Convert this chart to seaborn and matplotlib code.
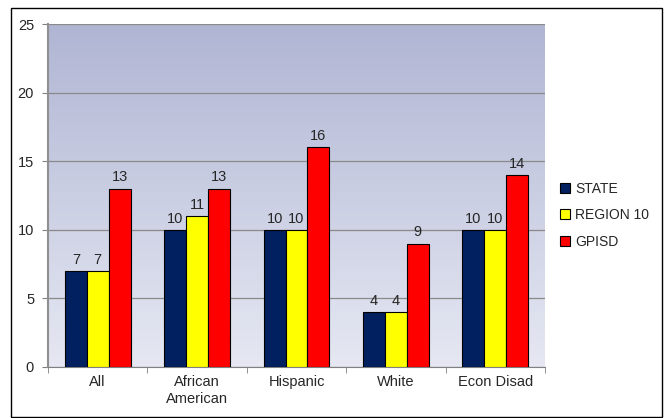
import matplotlib
matplotlib.use("Agg")
from matplotlib import pyplot as plt
from matplotlib.patches import Rectangle
import seaborn as sns
import pandas as pd
import numpy as np

categories = ["All", "African\nAmerican", "Hispanic", "White", "Econ Disad"]
series = ["STATE", "REGION 10", "GPISD"]
state = [7, 10, 10, 4, 10]
region10 = [7, 11, 10, 4, 10]
gpisd = [13, 13, 16, 9, 14]
colors = ["#002060", "#FFFF00", "#FF0000"]

df = pd.DataFrame({
    "Group": categories * 3,
    "Series": [s for s in series for _ in categories],
    "Value": state + region10 + gpisd,
})

sns.set_style("white")
plt.rcParams["font.family"] = ["Liberation Sans", "DejaVu Sans"]

fig = plt.figure(figsize=(6.64, 4.18), dpi=100)
ax = fig.add_axes([48 / 664, 1 - 367 / 418, (545 - 48) / 664, (367 - 24) / 418])

# gradient background of plot area (light at bottom, bluish grey at top)
grad = np.linspace(0, 1, 256).reshape(-1, 1, 1)
top = np.array([0.69, 0.71, 0.83])
bottom = np.array([0.90, 0.91, 0.95])
img = bottom + (top - bottom) * grad
ax.imshow(img, extent=[-0.5, 4.5, 0, 25], origin="lower",
          aspect="auto", zorder=0, interpolation="bilinear")

sns.barplot(
    data=df, x="Group", y="Value", hue="Series", order=categories,
    hue_order=series, palette=colors, width=0.66, edgecolor="black",
    linewidth=0.8, saturation=1, ax=ax, zorder=3, legend=True,
)

for c in ax.containers:
    ax.bar_label(c, fmt="%d", padding=3, fontsize=10.5)

ax.set_xlim(-0.5, 4.5)
ax.set_ylim(0, 25)
ax.set_yticks([0, 5, 10, 15, 20, 25])
ax.yaxis.grid(True, color="#8a8a8a", linewidth=0.9)
for gl in ax.get_ygridlines():
    gl.set_zorder(1)
ax.set_xlabel("")
ax.set_ylabel("")
ax.tick_params(axis="y", labelsize=10.5, length=4, color="#808080", left=True, pad=6)
ax.tick_params(axis="x", labelsize=10.5, length=0, pad=6)
ax.set_xticks(np.arange(-0.5, 5, 1), minor=True)
ax.tick_params(axis="x", which="minor", length=4, color="#808080", bottom=True)

for side in ["top", "right"]:
    ax.spines[side].set_visible(False)
ax.spines["left"].set_color("#909090")
ax.spines["left"].set_linewidth(1.5)
ax.spines["bottom"].set_color("#808080")

leg = ax.legend(loc="center left", bbox_to_anchor=(1.005, 0.443), frameon=False,
                fontsize=10, handlelength=0.7, handleheight=0.7,
                handletextpad=0.4, labelspacing=0.9)

fig.patches.append(Rectangle((11 / 664, 0.002), (662 - 11) / 664, 1 - 8 / 418 - 0.002,
                             transform=fig.transFigure, fill=False,
                             edgecolor="black", linewidth=1))

fig.savefig("out.png", dpi=100)
